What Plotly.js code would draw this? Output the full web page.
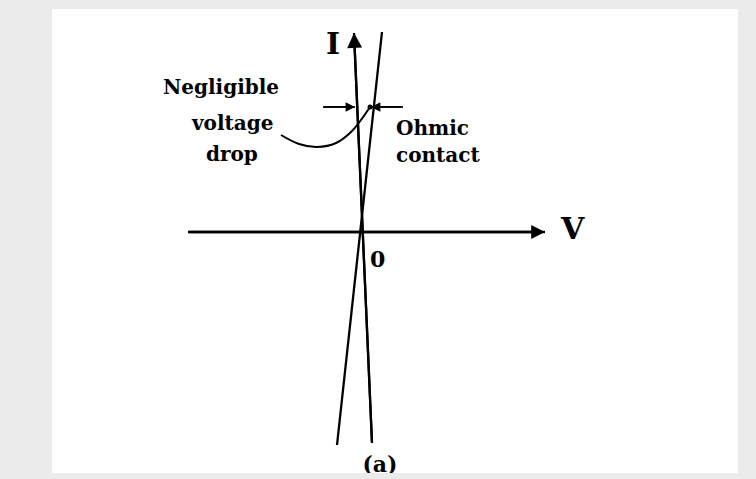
<!DOCTYPE html>
<html>
<head>
<meta charset="utf-8">
<script src="https://cdn.plot.ly/plotly-3.0.1.min.js"></script>
<style>
  html, body { margin: 0; padding: 0; background: #ebebeb; }
  #chart { width: 756px; height: 479px; }
</style>
</head>
<body>
<div id="chart"></div>
<script>
// V-I characteristic of an ohmic contact (sketch units, origin at 0,0)
var vAxisV = [-1.73, 1.84], vAxisI = [0, 0];
var iAxisV = [0.11, -0.07], iAxisI = [-2.11, 1.99];
var ohmicV = [-0.24, 0.21], ohmicI = [-2.13, 2.00];

// leader from the "Negligible voltage drop" label to the gap
var leaderV = [-0.80, -0.62, -0.44, -0.25, -0.09, 0.09];
var leaderI = [0.97, 0.88, 0.85, 0.89, 1.01, 1.25];

// the two small arrows marking the voltage drop
var dropLeftV = [-0.38, -0.06], dropRightV = [0.42, 0.10], dropI = [1.25, 1.25];

var labelText = ['I', 'V', '0', 'Negligible', 'voltage', 'drop', 'Ohmic', 'contact'];
var labelV = [-0.28, 2.11, 0.16, -1.40, -1.29, -1.29, 0.71, 0.77];
var labelI = [1.89, 0.04, -0.27, 1.45, 1.09, 0.78, 1.04, 0.77];
var labelSize = [30, 30, 22, 20, 20, 20, 20, 20];

// figure caption, cut by the page edge as in the scan
var captionText = ['(a)'], captionV = [0.19], captionI = [-2.34];

var serif = 'DejaVu Serif';
var ink = 'black';

function lineTrace(xs, ys, extra) {
    var t = { type: 'scatter', mode: 'lines', x: xs, y: ys,
        line: { color: ink, width: 2.3 }, hoverinfo: 'skip', showlegend: false };
    for (var k in extra) t[k] = extra[k];
    return t;
}

var data = [
    lineTrace(vAxisV, vAxisI),
    lineTrace(iAxisV, iAxisI),
    lineTrace(ohmicV, ohmicI),
    lineTrace(leaderV, leaderI, { line: { color: ink, width: 2, shape: 'spline' } }),
    lineTrace(dropLeftV, dropI, { line: { color: ink, width: 1.7 } }),
    lineTrace(dropRightV, dropI, { line: { color: ink, width: 1.7 } }),
    { type: 'scatter', mode: 'markers', x: [leaderV[leaderV.length - 1]], y: [leaderI[leaderI.length - 1]],
      marker: { color: ink, size: 5 }, hoverinfo: 'skip', showlegend: false },
    { type: 'scatter', mode: 'text', x: captionV, y: captionI, text: captionText,
      textfont: { family: serif, size: 22, color: ink, weight: 'bold' },
      cliponaxis: true, hoverinfo: 'skip', showlegend: false }
];

function head(xs, ys, size, width) {
    var n = xs.length;
    return { x: xs[n - 1], y: ys[n - 1], ax: xs[n - 2], ay: ys[n - 2],
        xref: 'x', yref: 'y', axref: 'x', ayref: 'y', text: '', showarrow: true,
        arrowhead: 2, arrowsize: size, arrowwidth: width, arrowcolor: ink };
}

var annotations = [
    head(vAxisV, vAxisI, 1.2, 2.3),
    head(iAxisV, iAxisI, 1.3, 2.3),
    head(dropLeftV, dropI, 1.1, 1.7),
    head(dropRightV, dropI, 1.1, 1.7)
];
labelText.forEach(function (t, i) {
    annotations.push({ x: labelV[i], y: labelI[i], xref: 'x', yref: 'y', text: t,
        showarrow: false, xanchor: 'center', yanchor: 'middle',
        font: { family: serif, size: labelSize[i], color: ink, weight: 'bold' } });
});

var layout = {
    width: 756, height: 479,
    margin: { l: 52, r: 18, t: 9, b: 6 },
    paper_bgcolor: '#ebebeb',
    plot_bgcolor: 'white',
    showlegend: false,
    xaxis: { range: [-3.09, 3.77], visible: false, fixedrange: true },
    yaxis: { range: [-2.41, 2.23], visible: false, fixedrange: true },
    annotations: annotations
};

Plotly.newPlot('chart', data, layout, { displayModeBar: false, staticPlot: true });
</script>
</body>
</html>
